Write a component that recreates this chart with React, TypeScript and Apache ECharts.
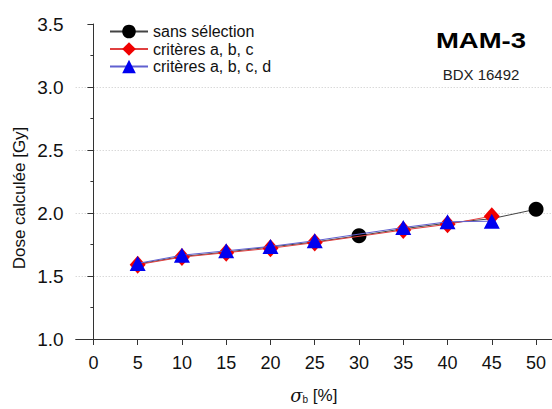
import React, { useEffect, useRef } from "react";
import * as echarts from "echarts";

const xTicks = [0, 5, 10, 15, 20, 25, 30, 35, 40, 45, 50];
const sansSelection: [number, number][] = [
  [5, 1.595], [10, 1.655], [15, 1.69], [20, 1.73], [25, 1.77],
  [30, 1.82], [35, 1.875], [40, 1.92], [45, 1.955], [50, 2.03],
];
const criteresABC: [number, number][] = [
  [5, 1.59], [10, 1.65], [15, 1.685], [20, 1.72], [25, 1.765],
  [35, 1.865], [40, 1.91], [45, 1.975],
];
const criteresABCD: [number, number][] = [
  [5, 1.6], [10, 1.665], [15, 1.7], [20, 1.735], [25, 1.78],
  [35, 1.885], [40, 1.93], [45, 1.935],
];
const seriesNames = ["sans sélection", "critères a, b, c", "critères a, b, c, d"];

const FONT = "'Liberation Sans', Arial, sans-serif";

export default function App() {
  const ref = useRef<HTMLDivElement>(null);
  useEffect(() => {
    if (!ref.current) return;
    const chart = echarts.init(ref.current, null, { renderer: "svg" });
    const axisColor = "#333";
    const coveredX = new Set(criteresABC.map((d) => d[0]));
    chart.setOption({
      animation: false,
      backgroundColor: "#fff",
      textStyle: { fontFamily: FONT },
      grid: { left: 75.7, top: 24, right: 0, bottom: 63.3, containLabel: false },
      graphic: [
        {
          type: "text",
          x: 481,
          y: 40,
          scaleX: 1.25,
          style: {
            text: "MAM-3",
            fontSize: 22,
            fontWeight: "bold",
            fontFamily: FONT,
            fill: "#000",
            align: "center",
            verticalAlign: "middle",
          },
        },
        {
          type: "text",
          x: 481,
          y: 74,
          style: {
            text: "BDX 16492",
            fontSize: 15,
            fontFamily: FONT,
            fill: "#222",
            align: "center",
            verticalAlign: "middle",
          },
        },
        {
          type: "text",
          x: 19,
          y: 198,
          rotation: Math.PI / 2,
          style: {
            text: "Dose calculée [Gy]",
            fontSize: 17,
            fontFamily: FONT,
            fill: "#111",
            align: "center",
            verticalAlign: "middle",
          },
        },
      ],
      legend: {
        orient: "vertical",
        left: 104,
        top: 18.5,
        itemWidth: 38,
        itemHeight: 17,
        itemGap: 1.5,
        data: seriesNames,
        textStyle: { fontSize: 16, fontFamily: FONT, color: "#111" },
      },
      xAxis: {
        type: "value",
        min: -2,
        max: 51.8,
        name: "{s|σ}{sub|b} [%]",
        nameLocation: "middle",
        nameGap: 47,
        nameTextStyle: {
          fontSize: 17,
          fontFamily: FONT,
          color: "#111",
          rich: {
            s: { fontSize: 18, fontStyle: "italic", fontFamily: "'DejaVu Serif', serif", color: "#111" },
            sub: { fontSize: 10, verticalAlign: "bottom", padding: [8, 0, 0, 0], color: "#111" },
          },
        },
        axisLine: { show: true, lineStyle: { color: axisColor, width: 1 } },
        axisTick: { show: true, customValues: xTicks, length: 6, lineStyle: { color: axisColor } },
        axisLabel: { customValues: xTicks, fontSize: 18, color: "#111", margin: 15, fontFamily: FONT },
        splitLine: { show: false },
      },
      yAxis: {
        type: "value",
        min: 1,
        max: 3.5,
        interval: 0.5,
        axisLine: { show: true, lineStyle: { color: axisColor, width: 1 } },
        axisTick: { show: true, length: 6, lineStyle: { color: axisColor } },
        minorTick: { show: true, splitNumber: 2, length: 3, lineStyle: { color: axisColor } },
        axisLabel: {
          fontSize: 19,
          color: "#111",
          margin: 12,
          fontFamily: FONT,
          formatter: (v: number) => v.toFixed(1),
        },
        splitLine: {
          show: true,
          showMinLine: false,
          showMaxLine: false,
          lineStyle: { color: "#c8c8c8", type: [1, 2], width: 1 },
        },
      },
      series: [
        {
          name: seriesNames[0],
          type: "line",
          data: sansSelection,
          symbol: (v: number[]) => (coveredX.has(v[0]) ? "none" : "circle"),
          symbolSize: 15,
          itemStyle: { color: "#000" },
          lineStyle: { color: "#444", width: 1 },
          z: 2,
        },
        {
          name: seriesNames[1],
          type: "line",
          data: criteresABC,
          symbol: "diamond",
          symbolSize: [16, 18],
          itemStyle: { color: "#f00000" },
          lineStyle: { color: "#e04040", width: 1 },
          z: 3,
        },
        {
          name: seriesNames[2],
          type: "line",
          data: criteresABCD,
          symbol: "triangle",
          symbolSize: [16, 15],
          itemStyle: { color: "#0000f0" },
          lineStyle: { color: "#6060d0", width: 1 },
          z: 4,
        },
      ],
    });
    return () => chart.dispose();
  }, []);
  return <div ref={ref} style={{ width: 552, height: 409, position: "absolute", left: 0, top: 0 }} />;
}
